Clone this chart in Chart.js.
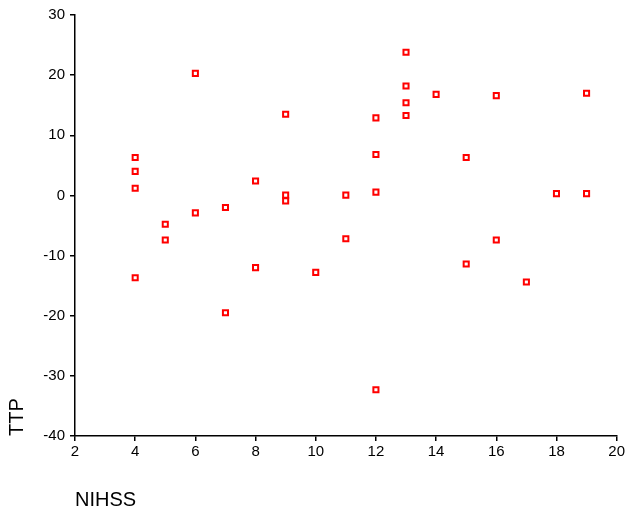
<!DOCTYPE html>
<html>
<head>
<meta charset="utf-8">
<script src="https://cdn.jsdelivr.net/npm/chart.js@4"></script>
<style>
  body { margin: 0; background: #fff; }
  canvas { display: block; }
</style>
</head>
<body>
<canvas id="scatterChart" width="627" height="515"></canvas>
<script>
// NIHSS vs TTP
const nihss = [4, 4, 4, 4, 5, 5, 6, 6, 7, 7, 8, 8, 9, 9, 9, 10, 11, 11, 12, 12, 12, 12, 13, 13, 13, 13, 14, 15, 15, 16, 16, 17, 18, 19, 19];
const ttp = [6.3, 4.0, 1.2, -13.7, -4.8, -7.4, 20.3, -2.9, -2.0, -19.5, 2.4, -12.0, 13.5, 0.05, -0.9, -12.8, 0.05, -7.2, 12.9, 6.8, 0.55, -32.3, 23.8, 18.2, 15.4, 13.3, 16.8, 6.3, -11.4, 16.6, -7.4, -14.4, 0.3, 17.0, 0.3];
const xTicks = [2, 4, 6, 8, 10, 12, 14, 16, 18, 20];
const yTicks = [-40, -30, -20, -10, 0, 10, 20, 30];

const points = nihss.map((x, i) => ({ x: x, y: ttp[i] }));
const tickFont = { family: 'Liberation Sans, Arial, sans-serif', size: 15 };
const titleFont = { family: 'Liberation Sans, Arial, sans-serif', size: 20 };

new Chart(document.getElementById('scatterChart').getContext('2d'), {
    type: 'scatter',
    data: {
        datasets: [{
            label: 'TTP',
            data: points,
            pointStyle: 'rect',
            pointRadius: 3.6,
            pointHoverRadius: 3.6,
            borderWidth: 2,
            borderColor: '#ff0000',
            backgroundColor: '#ffffff'
        }]
    },
    options: {
        responsive: false,
        animation: false,
        layout: { padding: { top: 15, right: 10, left: 0, bottom: 0 } },
        plugins: { legend: { display: false }, tooltip: { enabled: false } },
        scales: {
            x: {
                type: 'linear',
                min: xTicks[0],
                max: xTicks[xTicks.length - 1],
                afterBuildTicks: s => { s.ticks = xTicks.map(v => ({ value: v })); },
                afterFit: s => { s.height = 515 - 436; },
                border: { color: '#000', width: 1.5 },
                grid: { drawOnChartArea: false, drawTicks: true, tickLength: 5, color: '#000', lineWidth: 1.5 },
                ticks: { color: '#000', font: tickFont, padding: 2 },
                title: { display: true, text: 'NIHSS', align: 'start', color: '#000', font: titleFont, padding: { top: 0, bottom: 3 } }
            },
            y: {
                type: 'linear',
                min: yTicks[0],
                max: yTicks[yTicks.length - 1],
                afterBuildTicks: s => { s.ticks = yTicks.map(v => ({ value: v })); },
                afterFit: s => { s.width = 75; },
                border: { color: '#000', width: 1.5 },
                grid: { drawOnChartArea: false, drawTicks: true, tickLength: 5, color: '#000', lineWidth: 1.5 },
                ticks: { color: '#000', font: tickFont, padding: 5 },
                title: { display: true, text: 'TTP', align: 'start', color: '#000', font: titleFont, padding: { top: 5, bottom: 0 } }
            }
        }
    }
});
</script>
</body>
</html>
